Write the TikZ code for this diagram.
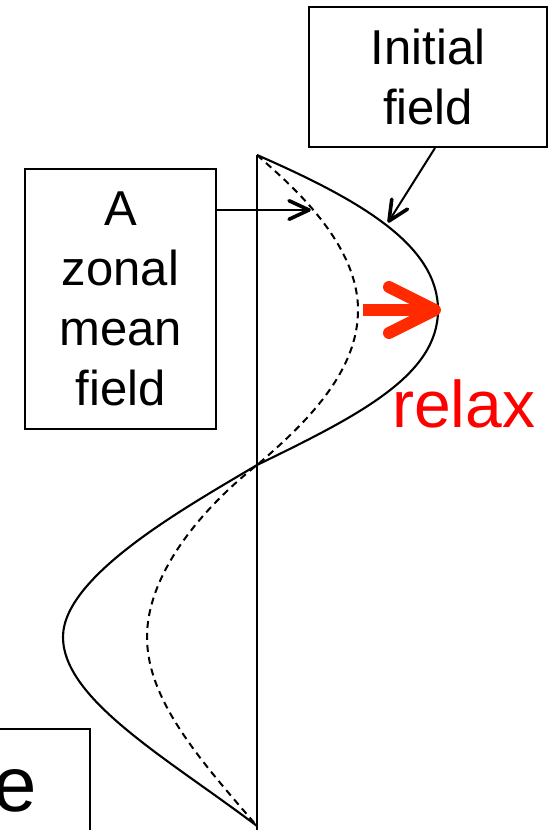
\documentclass[tikz,border=0pt]{standalone}
\usepackage{fontspec}
\setmainfont{Liberation Sans}
\usepackage{xcolor}
\usetikzlibrary{arrows.meta,calc}
\definecolor{relaxred}{RGB}{255,0,0}
\definecolor{pushred}{RGB}{255,42,0}

\begin{document}
\begin{tikzpicture}[x=1pt, y=-1pt,
      box/.style={draw, line width=2pt, align=center, inner sep=0pt,
                  font=\fontsize{49}{60}\selectfont},
      field/.style={line width=2.1pt},
      mean/.style={line width=2pt, dash pattern=on 7pt off 5pt},
      ptr/.style={line width=2pt},
      barb/.style={line width=3.6pt, line cap=round, line join=round}]
    \useasboundingbox (0,0) rectangle (553,830);
    \clip (0,0) rectangle (553,830);
    % labels
    \node[box, minimum width=238pt, minimum height=140pt] (init) at (428,77) {Initial\\field};
    \node[box, minimum width=191pt, minimum height=260pt] (zonal) at (120.5,299) {A\\zonal\\mean\\field};
    \node[box, font=\fontsize{78}{80}\selectfont, anchor=north east, text height=82pt,
          text depth=100pt, text width=150pt, align=right, inner xsep=53pt] (ebox) at (91,728) {e};
    % axis
    \coordinate (top) at (257,155);
    \coordinate (bot) at (257,830);
    \draw[field] (top) -- (bot);
    % initial field (solid)
    \draw[field] (top) .. controls (360,200) and (438,245) .. (438,310)
                       .. controls (438,375) and (360,415) .. (257,465)
                       .. controls (190,505) and (63,575) .. (63,637)
                       .. controls (63,700) and (170,760) .. (257,826);
    % zonal mean field (dashed)
    \draw[mean] (top) .. controls (285,180) and (358,240) .. (358,310)
                      .. controls (358,370) and (310,420) .. (257,465)
                      .. controls (200,510) and (147,575) .. (147,637)
                      .. controls (147,700) and (200,760) .. (257,826);
    % pointers: thin shaft, bold open barb
    \coordinate (zpt) at (309,210);
    \coordinate (zfrom) at (zonal.east |- zpt);
    \coordinate (ipt) at (389,221);
    \coordinate (ifrom) at ([xshift=7pt]init.south);
    \draw[ptr] (zfrom) -- (zpt);
    \draw[barb] ($(zpt)!22pt!-25:(zfrom)$) -- (zpt) -- ($(zpt)!22pt!25:(zfrom)$);
    \draw[ptr] (ifrom) -- (ipt);
    \draw[barb] ($(ipt)!22pt!-25:(ifrom)$) -- (ipt) -- ($(ipt)!22pt!25:(ifrom)$);
    % relaxation
    \coordinate (push) at (363,310);
    \coordinate (peak) at (441,310);
    \draw[pushred, line width=12pt, -{Straight Barb[length=46pt,width=46pt,round]}] (push) -- (peak);
    \node[anchor=base west, inner sep=0pt, text=relaxred, font=\fontsize{66}{70}\selectfont] (relax) at (392,427) {relax};
\end{tikzpicture}
\end{document}
